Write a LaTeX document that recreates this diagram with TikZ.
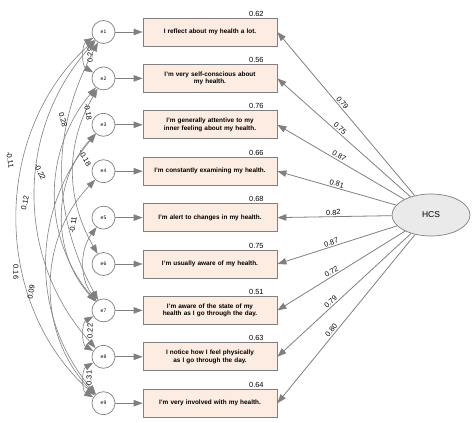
\documentclass[tikz,border=0pt]{standalone}
\usepackage{fontspec}
\setmainfont{Liberation Sans}
\usetikzlibrary{arrows.meta,shapes.geometric}
\definecolor{boxfill}{RGB}{253,236,226}
\definecolor{linegray}{RGB}{128,128,128}
\definecolor{latfill}{RGB}{234,234,234}
\tikzset{
    item/.style={draw=linegray, fill=boxfill, line width=0.8pt, minimum width=134pt, minimum height=28pt, text width=128pt, align=center, inner sep=1pt, font=\fontsize{6.4}{7.6}\selectfont\bfseries},
    err/.style={circle, draw=linegray, fill=white, line width=0.7pt, minimum size=23pt, inner sep=0pt, font=\fontsize{5}{6}\selectfont},
    latent/.style={ellipse, draw=linegray, fill=latfill, line width=0.7pt, minimum width=78pt, minimum height=42pt, font=\fontsize{8.5}{10}\selectfont},
    load/.style={draw=linegray, line width=0.8pt, -{Triangle[length=9pt,width=6.5pt]}},
    cov/.style={draw=linegray, line width=0.6pt, {Triangle[length=9pt,width=6.5pt]}-{Triangle[length=9pt,width=6.5pt]}},
    num/.style={font=\fontsize{7.4}{9}\selectfont, inner sep=1.2pt},
}
\begin{document}
\begin{tikzpicture}[x=1pt, y=-1pt]
    \useasboundingbox (0,0) rectangle (474,423);
    % items and errors
    \foreach \i/\txt/\rsq in {
        1/{I reflect about my health a lot.}/0.62,
        2/{I'm very self-conscious about\\my health.}/0.56,
        3/{I'm generally attentive to my\\inner feeling about my health.}/0.76,
        4/{I'm constantly examining my health.}/0.66,
        5/{I'm alert to changes in my health.}/0.68,
        6/{I'm usually aware of my health.}/0.75,
        7/{I'm aware of the state of my\\health as I go through the day.}/0.51,
        8/{I notice how I feel physically\\as I go through the day.}/0.63,
        9/{I'm very involved with my health.}/0.64} {
        \node[item] (v\i) at (210, {32+46.4*(\i-1)}) {\txt};
        \node[err] (e\i) at (103.5, {32+46.4*(\i-1)}) {e\i};
        \node[num, above] (r\i) at ([xshift=-21pt]v\i.north east) {\rsq};
        \draw[load] (e\i) -- (v\i);
    }
    \node[latent] (hcs) at (431,215) {HCS};
    % loadings
    \foreach \i/\w/\p in {1/0.79/0.55, 2/0.75/0.55, 3/0.87/0.53, 4/0.81/0.51, 5/0.82/0.51,
        6/0.87/0.54, 7/0.72/0.56, 8/0.79/0.58, 9/0.80/0.585}
        \draw[load] (hcs) -- node[num, sloped, above, pos=\p] {\w} (v\i.east);
    % error covariances (y axis is flipped, so rotations are negated)
    \foreach \a/\b/\ang/\x/\y/\r/\lab in {
        1/2/60/90/55/90/0.29, 1/9/48/10/160/-80/-0.11, 1/8/42/25/203/78/0.12,
        1/7/28/40/172/-65/-0.22, 2/7/40/63/120/-75/0.28, 2/6/30/88/112/-80/-0.18,
        3/7/42/85/158/-60/-0.18, 5/7/36/73/225/80/-0.11, 4/9/44/16/272/-90/0.16,
        3/9/40/31/292/80/0.09, 7/8/60/90/331/90/0.22, 8/9/60/89/378/90/0.31} {
        \draw[cov] (e\a) to[bend right=\ang] (e\b);
        \node[num, rotate=\r] (c\a\b) at (\x,\y) {\lab};
    }
\end{tikzpicture}
\end{document}
